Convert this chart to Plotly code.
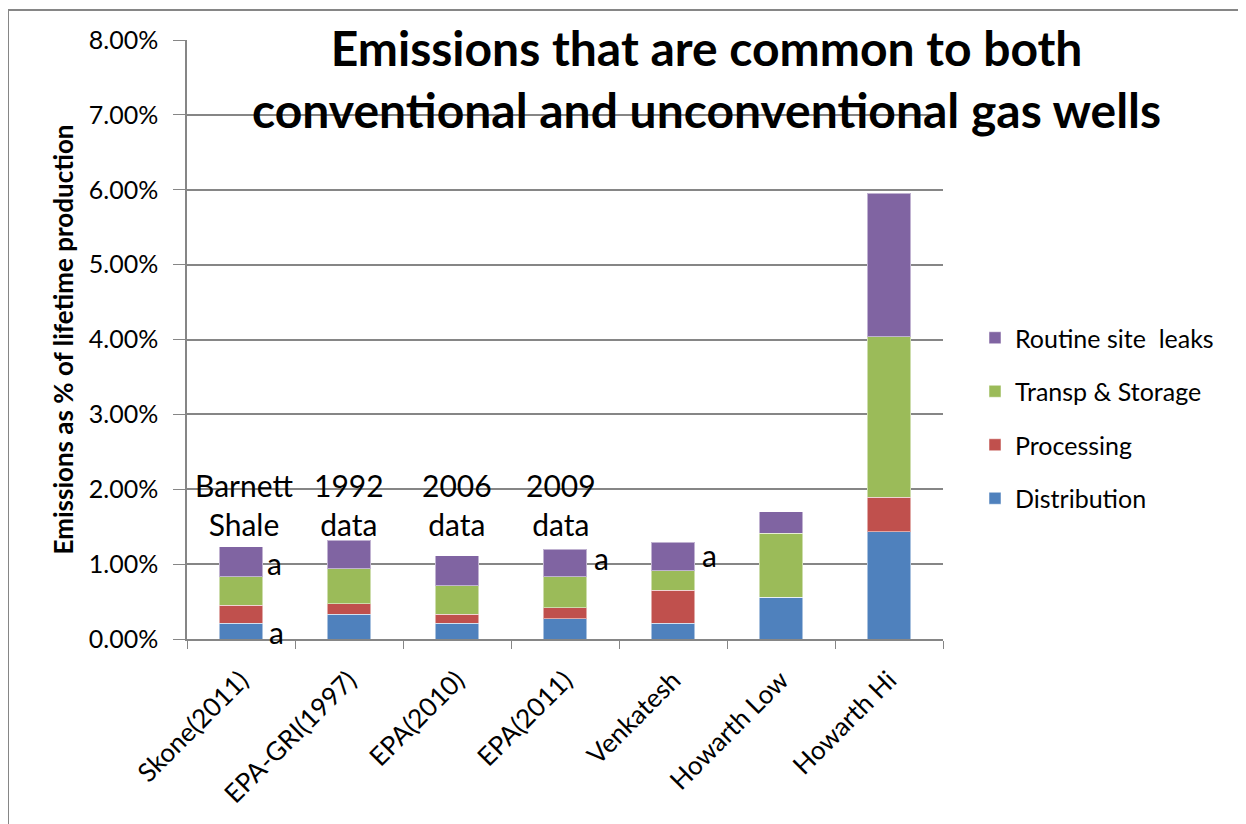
import plotly.graph_objects as go

categories = ["Skone(2011)", "EPA-GRI(1997)", "EPA(2010)", "EPA(2011)", "Venkatesh", "Howarth Low", "Howarth Hi"]
distribution = [0.0021, 0.0033, 0.0021, 0.0027, 0.0021, 0.0056, 0.0143]
processing = [0.0024, 0.0014, 0.0012, 0.0015, 0.0044, 0.0, 0.0046]
transp_storage = [0.0038, 0.0047, 0.0038, 0.0041, 0.0026, 0.0085, 0.0215]
routine_leaks = [0.0040, 0.0038, 0.0040, 0.0037, 0.0038, 0.0029, 0.0191]

series = [
    ("Distribution", distribution, "#4F81BD"),
    ("Processing", processing, "#C0504D"),
    ("Transp & Storage", transp_storage, "#9BBB59"),
    ("Routine site  leaks", routine_leaks, "#8064A2"),
]

# text annotations: (category, y value, text, xshift)
notes = [
    ("Skone(2011)", 0.0179, "Barnett<br>Shale", 3),
    ("EPA-GRI(1997)", 0.0179, "1992<br>data", 0),
    ("EPA(2010)", 0.0179, "2006<br>data", 0),
    ("EPA(2011)", 0.0179, "2009<br>data", -4),
    ("Skone(2011)", 0.0101, "a", 33),
    ("Skone(2011)", 0.0009, "a", 35),
    ("EPA(2011)", 0.0108, "a", 36),
    ("Venkatesh", 0.0112, "a", 36),
]

FONT = "Lato"
W, H = 1238, 816
L, R, T, B = 179, 303, 32, 185
PW, PH = W - L - R, H - T - B

fig = go.Figure()
for i, (name, vals, color) in enumerate(series):
    fig.add_trace(go.Bar(
        x=categories, y=vals, name=name,
        marker=dict(color=color, line=dict(color="rgba(255,255,255,0.5)", width=1)),
        width=0.4, legendgroup=name, legendrank=len(series) - i,
    ))

for cat, yv, txt, xs in notes:
    fig.add_annotation(x=cat, y=yv, xref="x", yref="y", text=txt, showarrow=False,
                       xshift=xs, font=dict(family=FONT, size=30, color="black"))

fig.add_annotation(x=(698 - L) / PW, y=(PH + T - 71) / PH, xref="paper", yref="paper",
                   xanchor="center", yanchor="middle",
                   text="<b>Emissions that are common to both<br>conventional and unconventional gas wells</b>",
                   showarrow=False, font=dict(family=FONT, size=48, color="black"))

fig.add_shape(type="rect", xref="paper", yref="paper",
              x0=(0 - L) / PW, x1=(W + 20 - L) / PW,
              y0=-(B + 20) / PH, y1=(PH + T - 2) / PH,
              line=dict(color="#868686", width=2), layer="below")

fig.update_layout(
    width=W, height=H,
    margin=dict(l=L, r=R, t=T, b=B),
    barmode="stack",
    plot_bgcolor="white", paper_bgcolor="white",
    font=dict(family=FONT, size=24, color="black"),
    showlegend=True,
    legend=dict(x=(967 - L) / PW, y=(PH + T - 418 + 8) / PH, xanchor="left", yanchor="middle",
                traceorder="grouped", tracegroupgap=18,
                font=dict(family=FONT, size=25, color="black"),
                itemwidth=30),
    yaxis=dict(range=[0, 0.08], dtick=0.01, tickformat=".2%",
               showgrid=True, gridcolor="#868686", gridwidth=1.5,
               showline=True, linecolor="#868686", linewidth=1.5,
               ticks="outside", ticklen=12, tickcolor="#868686",
               ticklabelstandoff=10,
               zeroline=False,
               tickfont=dict(family=FONT, size=25),
               title=dict(text="<b>Emissions as % of lifetime production</b>",
                          font=dict(family=FONT, size=26), standoff=8)),
    xaxis=dict(tickangle=-45, showline=True, linecolor="#868686", linewidth=1.5,
               ticks="outside", ticklen=8, tickcolor="#868686", tickson="boundaries",
               ticklabelstandoff=14,
               tickfont=dict(family=FONT, size=26)),
)

fig.write_html("out.html")
